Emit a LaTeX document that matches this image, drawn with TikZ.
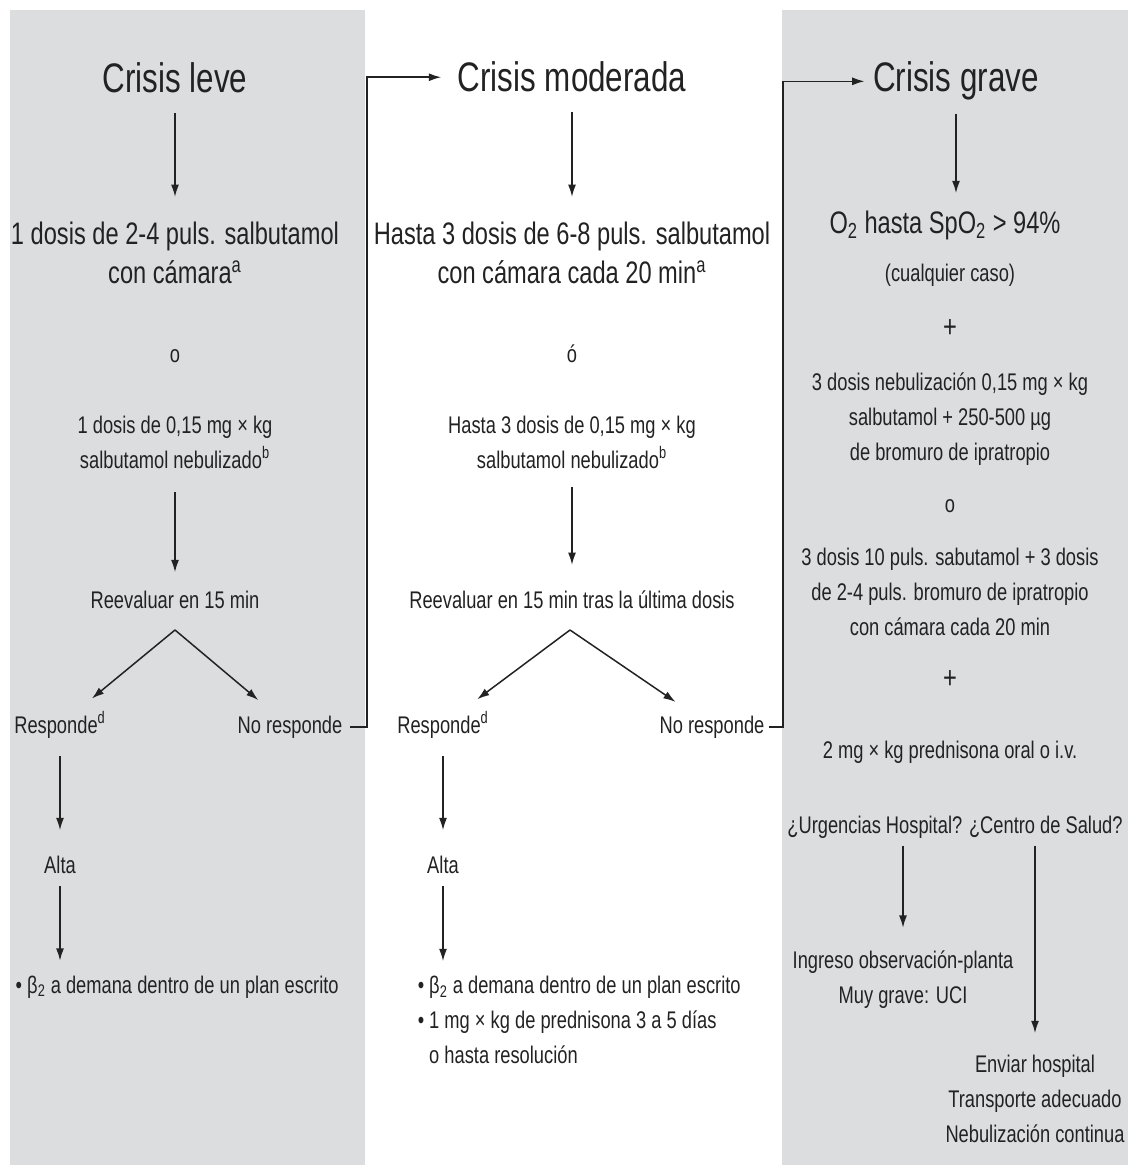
\documentclass[tikz,border=0pt]{standalone}
\usepackage{fontspec}
\setmainfont{Liberation Sans}[FakeStretch=0.76]
\usetikzlibrary{arrows.meta}
\definecolor{cpanel}{HTML}{DCDDDF}
\definecolor{cink}{HTML}{222222}
\tikzset{
  every picture/.style={line width=0.85pt},
  title/.style={font=\fontsize{23.5}{28}\selectfont, text=cink, anchor=base, inner sep=0pt},
  body/.style={font=\fontsize{17.7}{22.3}\selectfont, text=cink, anchor=base, align=center, inner sep=0pt},
  note/.style={font=\fontsize{13.7}{19.8}\selectfont, text=cink, anchor=base, align=center, inner sep=0pt},
  arrow/.style={-{Latex[length=7pt, width=4.5pt]}, draw=cink},
}

\begin{document}
\begin{tikzpicture}[x=0.02cm, y=-0.02cm]
  \useasboundingbox (0,0) rectangle (1128,1165);
  \fill[cpanel] (10,10) rectangle (365,1165);
  \fill[cpanel] (782,10) rectangle (1128,1165);

  \node[title] (leve) at (175,93) {Crisis leve};
  \node[body] (l1) at (175,284) {1 dosis de 2-4 puls. salbutamol\\con cámara\textsuperscript{a}};
  \node[note] (lo) at (175,363) {o};
  \node[note] (l2) at (175,468) {1 dosis de 0,15 mg × kg\\salbutamol nebulizado\textsuperscript{b}};
  \node[note] (lree) at (175,608) {Reevaluar en 15 min};
  \coordinate (lfork) at (175,630);
  \node[note] (lresp) at (60,733) {Responde\textsuperscript{d}};
  \node[note] (lno) at (290,733) {No responde};
  \node[note] (lalta) at (60,873) {Alta};
  \node[note, anchor=base west] (lbul) at (15,993) {• β\textsubscript{2} a demana dentro de un plan escrito};

  \node[title] (mod) at (572,92) {Crisis moderada};
  \node[body] (m1) at (572,284) {Hasta 3 dosis de 6-8 puls. salbutamol\\con cámara cada 20 min\textsuperscript{a}};
  \node[note] (mo) at (572,363) {ó};
  \node[note] (m2) at (572,468) {Hasta 3 dosis de 0,15 mg × kg\\salbutamol nebulizado\textsuperscript{b}};
  \node[note] (mree) at (572,608) {Reevaluar en 15 min tras la última dosis};
  \coordinate (mfork) at (570,630);
  \node[note] (mresp) at (443,733) {Responde\textsuperscript{d}};
  \node[note] (mno) at (712,733) {No responde};
  \node[note] (malta) at (443,873) {Alta};
  \node[note, anchor=base west, align=left] (mbul) at (417,1063) {• β\textsubscript{2} a demana dentro de un plan escrito\\• 1 mg × kg de prednisona 3 a 5 días\\\hphantom{•\ }o hasta resolución};

  \node[title] (grave) at (956,92) {Crisis grave};
  \node[body] (r1) at (945,234) {O\textsubscript{2} hasta SpO\textsubscript{2} > 94\%};
  \node[note] (rcual) at (950,282) {(cualquier caso)};
  \node[body] (rmas) at (950,338) {+};
  \node[note] (r2) at (950,460) {3 dosis nebulización 0,15 mg × kg\\salbutamol + 250-500 µg\\de bromuro de ipratropio};
  \node[note] (ro) at (950,512) {o};
  \node[note] (r3) at (950,635) {3 dosis 10 puls. sabutamol + 3 dosis\\de 2-4 puls. bromuro de ipratropio\\con cámara cada 20 min};
  \node[body] (rmas2) at (950,688) {+};
  \node[note] (r4) at (950,758) {2 mg × kg prednisona oral o i.v.};
  \node[note] (r5) at (955,833) {¿Urgencias Hospital? ¿Centro de Salud?};
  \node[note] (r6) at (903,1003) {Ingreso observación-planta\\Muy grave: UCI};
  \node[note] (r7) at (1035,1142) {Enviar hospital\\Transporte adecuado\\Nebulización continua};

  \draw[arrow, shorten <=11pt, shorten >=14pt] (leve) -- (l1);
  \draw[arrow, shorten <=13pt, shorten >=10pt] (l2) -- (lree);
  \draw[arrow, shorten >=11pt] (lfork) -- (lresp);
  \draw[arrow, shorten >=13pt] (lfork) -- (lno);
  \draw[arrow, shorten <=10pt, shorten >=14pt] (lresp) -- (lalta);
  \draw[arrow, shorten <=7pt, shorten >=8pt] (lalta) -- (lalta |- lbul.north);
  \draw[arrow, shorten <=4pt, shorten >=9pt] (lno.east) -- ++(24,0) |- (mod.west);

  \draw[arrow, shorten <=11pt, shorten >=14pt] (mod) -- (m1);
  \draw[arrow, shorten <=10pt, shorten >=14pt] (m2) -- (mree);
  \draw[arrow, shorten >=11pt] (mfork) -- (mresp);
  \draw[arrow, shorten >=13pt] (mfork) -- (mno);
  \draw[arrow, shorten <=10pt, shorten >=14pt] (mresp) -- (malta);
  \draw[arrow, shorten <=7pt, shorten >=8pt] (malta) -- (malta |- mbul.north);
  \draw[arrow, shorten <=2pt, shorten >=4.5pt] (mno.east) -- ++(18,0) |- (grave.west);

  \draw[arrow, shorten <=7pt, shorten >=10pt] (grave) -- (grave |- r1.north);
  \draw[arrow, shorten <=4pt, shorten >=12.5pt] (r6 |- r5.south) -- (r6);
  \draw[arrow, shorten <=4pt, shorten >=12pt] (r7 |- r5.south) -- (r7);
\end{tikzpicture}
\end{document}
